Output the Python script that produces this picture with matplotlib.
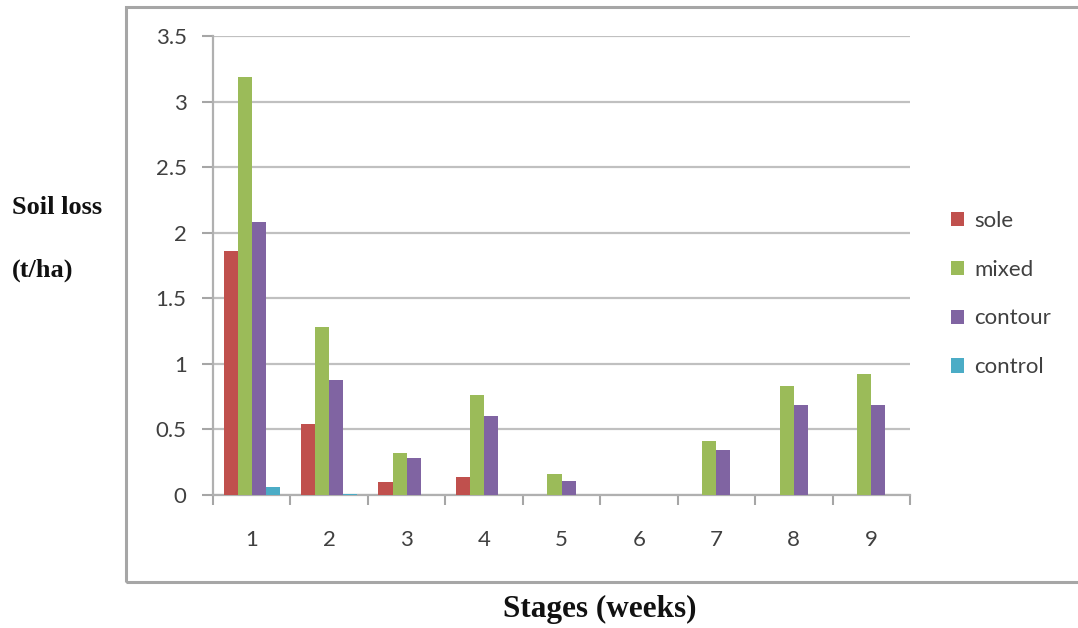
import matplotlib
matplotlib.use("Agg")
import matplotlib.pyplot as plt
import numpy as np
from matplotlib.patches import Rectangle

stages = ["1", "2", "3", "4", "5", "6", "7", "8", "9"]
series_names = ["sole", "mixed", "contour", "control"]
sole = [1.86, 0.54, 0.10, 0.14, 0.0, 0.0, 0.0, 0.0, 0.0]
mixed = [3.19, 1.28, 0.32, 0.76, 0.16, 0.0, 0.41, 0.83, 0.92]
contour = [2.08, 0.88, 0.28, 0.60, 0.11, 0.0, 0.34, 0.69, 0.69]
control = [0.06, 0.01, 0.0, 0.0, 0.0, 0.0, 0.0, 0.0, 0.0]
colors = ["#C0504D", "#9BBB59", "#8064A2", "#4BACC6"]
yticks = [0, 0.5, 1, 1.5, 2, 2.5, 3, 3.5]
ytick_labels = ["0", "0.5", "1", "1.5", "2", "2.5", "3", "3.5"]

W, H = 1078, 628
fig = plt.figure(figsize=(W / 100, H / 100), dpi=100)
ax = fig.add_axes([213 / W, 1 - 495 / H, (910 - 213) / W, (495 - 36) / H])

# outer frame (right edge beyond the image)
fig.patches.append(Rectangle((126 / W, 1 - 582 / H), (1090 - 126) / W, (582 - 7) / H,
                             transform=fig.transFigure, fill=False,
                             edgecolor="#a6a6a6", linewidth=2.2, clip_on=False))

x = np.arange(1, len(stages) + 1)
bw = 0.182
data = [sole, mixed, contour, control]
for i, (vals, name, c) in enumerate(zip(data, series_names, colors)):
    ax.bar(x + (i - 1.5) * bw, vals, width=bw, color=c, label=name, zorder=3,
           linewidth=0)

ax.set_xlim(0.5, 9.5)
ax.set_ylim(0, 3.5)
ax.set_yticks(yticks)
ax.set_yticklabels(ytick_labels)
ax.set_xticks(x)
ax.set_xticklabels(stages)
ax.set_xticks(np.arange(0.5, 9.6, 1), minor=True)
ax.tick_params(axis="x", which="major", length=0, pad=25)
ax.tick_params(axis="x", which="minor", length=7, width=1.5, color="#a6a6a6")
ax.tick_params(axis="y", length=8, width=1.5, color="#a6a6a6", pad=11)
FONT = "Lato"
for lab in ax.get_xticklabels() + ax.get_yticklabels():
    lab.set_family(FONT)
    lab.set_fontsize(16)
    lab.set_color("#404040")

ax.grid(axis="y", color="#c0c0c0", linewidth=1.6, zorder=0)
for s in ["top", "right"]:
    ax.spines[s].set_visible(False)
ax.spines["left"].set_color("#b0b0b0")
ax.spines["bottom"].set_color("#b0b0b0")
ax.spines["left"].set_linewidth(1.6)
ax.spines["bottom"].set_linewidth(1.6)

leg = ax.legend(loc="center left", bbox_to_anchor=(931 / W, 1 - 294 / H),
                bbox_transform=fig.transFigure, frameon=False,
                prop={"family": FONT, "size": 16},
                handlelength=0.6, handleheight=0.6, handletextpad=0.45,
                labelspacing=1.3)
for t in leg.get_texts():
    t.set_color("#404040")

fig.text(12 / W, 1 - 208 / H, "Soil loss", family="Liberation Serif",
         weight="bold", fontsize=19, va="center", ha="left", color="#111111")
fig.text(12 / W, 1 - 270 / H, "(t/ha)", family="Liberation Serif",
         weight="bold", fontsize=19, va="center", ha="left", color="#111111")
fig.text(600 / W, 1 - 609 / H, "Stages (weeks)", family="Liberation Serif",
         weight="bold", fontsize=22.5, va="center", ha="center", color="#111111")

fig.savefig("out.png", dpi=100)
